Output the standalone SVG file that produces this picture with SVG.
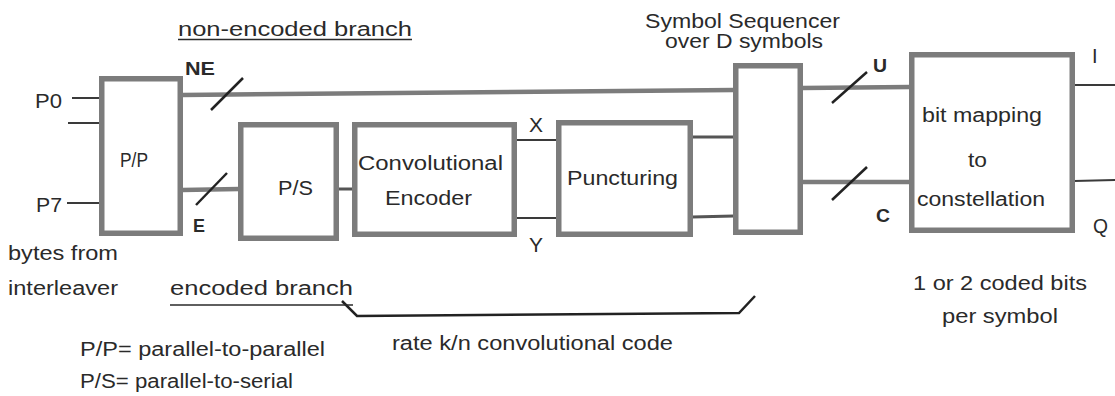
<svg xmlns="http://www.w3.org/2000/svg" width="1115" height="396" viewBox="0 0 1115 396">
<style>
  .box { fill: #ffffff; stroke: #7c7c7c; stroke-width: 5.5; }
  .bus { stroke: #7c7c7c; stroke-width: 4.5; fill: none; }
  .thin { stroke: #3a3a3a; stroke-width: 2; fill: none; }
  .med { stroke: #555555; stroke-width: 3; fill: none; }
  .slash { stroke: #222222; stroke-width: 2.5; fill: none; }
  .t { font-family: "Liberation Sans", Arial, sans-serif; font-size: 20px; fill: #2a2a2a; }
  .b { font-weight: bold; font-size: 18px; }
</style>
<rect width="1115" height="396" fill="#ffffff"/>

<g id="connectors">
  <line class="thin" x1="72" y1="98" x2="100" y2="98"/>
  <line class="thin" x1="68" y1="123" x2="100" y2="123"/>
  <line class="thin" x1="67" y1="203" x2="100" y2="203"/>
  <line class="bus" x1="182" y1="95" x2="734" y2="90"/>
  <line class="slash" x1="211" y1="110" x2="243" y2="78"/>
  <line class="bus" x1="182" y1="190" x2="239" y2="189"/>
  <line class="slash" x1="196" y1="205" x2="227" y2="173"/>
  <line class="med" x1="338" y1="189" x2="353" y2="189"/>
  <line class="thin" x1="516" y1="140" x2="557" y2="140"/>
  <line class="thin" x1="516" y1="218" x2="557" y2="218"/>
  <line class="med" x1="692" y1="137" x2="734" y2="137"/>
  <line class="med" x1="692" y1="217" x2="734" y2="216"/>
  <line class="bus" x1="802" y1="88" x2="910" y2="87"/>
  <line class="slash" x1="832" y1="103" x2="867" y2="72"/>
  <line class="bus" x1="802" y1="182" x2="910" y2="182"/>
  <line class="slash" x1="832" y1="200" x2="867" y2="167"/>
  <line class="thin" x1="1074" y1="85" x2="1115" y2="85"/>
  <line class="thin" x1="1074" y1="181" x2="1115" y2="180"/>
  <polyline class="slash" points="342,301 357,316 739,313 755,296"/>
</g>

<g id="pp">
  <rect class="box" x="101.75" y="78.75" width="78.5" height="154.5"/>
  <text class="t" x="120" y="167" textLength="28" lengthAdjust="spacingAndGlyphs">P/P</text>
</g>
<g id="ps">
  <rect class="box" x="240.75" y="124.75" width="95.5" height="113.5"/>
  <text class="t" x="278" y="195" textLength="35" lengthAdjust="spacingAndGlyphs">P/S</text>
</g>
<g id="encoder">
  <rect class="box" x="354.75" y="124.75" width="159.5" height="109.5"/>
  <text class="t" x="358" y="170" textLength="145" lengthAdjust="spacingAndGlyphs">Convolutional</text>
  <text class="t" x="385" y="205" textLength="87" lengthAdjust="spacingAndGlyphs">Encoder</text>
</g>
<g id="puncturing">
  <rect class="box" x="558.75" y="122.75" width="131.5" height="111.5"/>
  <text class="t" x="567" y="185" textLength="111" lengthAdjust="spacingAndGlyphs">Puncturing</text>
</g>
<g id="sequencer">
  <rect class="box" x="735.75" y="65.75" width="64.5" height="166.5"/>
  <text class="t" x="645" y="28" textLength="195" lengthAdjust="spacingAndGlyphs">Symbol Sequencer</text>
  <text class="t" x="665" y="48" textLength="158" lengthAdjust="spacingAndGlyphs">over D symbols</text>
</g>
<g id="mapping">
  <rect class="box" x="911.75" y="54.75" width="160.5" height="175.5"/>
  <text class="t" x="922" y="122" textLength="120" lengthAdjust="spacingAndGlyphs">bit mapping</text>
  <text class="t" x="968" y="167" textLength="19" lengthAdjust="spacingAndGlyphs">to</text>
  <text class="t" x="917" y="206" textLength="128" lengthAdjust="spacingAndGlyphs">constellation</text>
</g>

<g id="labels">
  <text class="t" x="178" y="36" textLength="234" lengthAdjust="spacingAndGlyphs">non-encoded branch</text>
  <line x1="178" y1="39.5" x2="412" y2="39.5" stroke="#2a2a2a" stroke-width="1.5"/>
  <text class="t b" x="185" y="75" textLength="30" lengthAdjust="spacingAndGlyphs">NE</text>
  <text class="t" x="35" y="108" textLength="27" lengthAdjust="spacingAndGlyphs">P0</text>
  <text class="t" x="36" y="212" textLength="26" lengthAdjust="spacingAndGlyphs">P7</text>
  <text class="t b" x="193" y="232" textLength="12" lengthAdjust="spacingAndGlyphs">E</text>
  <text class="t" x="529" y="132" textLength="14" lengthAdjust="spacingAndGlyphs">X</text>
  <text class="t" x="529" y="252" textLength="14" lengthAdjust="spacingAndGlyphs">Y</text>
  <text class="t b" x="873" y="72" textLength="14" lengthAdjust="spacingAndGlyphs">U</text>
  <text class="t b" x="876" y="222" textLength="14" lengthAdjust="spacingAndGlyphs">C</text>
  <text class="t" x="1092" y="63">I</text>
  <text class="t" x="1093" y="233" textLength="15" lengthAdjust="spacingAndGlyphs">Q</text>
  <text class="t" x="913" y="290" textLength="174" lengthAdjust="spacingAndGlyphs">1 or 2 coded bits</text>
  <text class="t" x="942" y="323" textLength="116" lengthAdjust="spacingAndGlyphs">per symbol</text>
  <text class="t" x="8" y="260" textLength="110" lengthAdjust="spacingAndGlyphs">bytes from</text>
  <text class="t" x="8" y="295" textLength="110" lengthAdjust="spacingAndGlyphs">interleaver</text>
  <text class="t" x="170" y="295" textLength="183" lengthAdjust="spacingAndGlyphs">encoded branch</text>
  <line x1="170" y1="305" x2="353" y2="305" stroke="#2a2a2a" stroke-width="1.5"/>
  <text class="t" x="392" y="350" textLength="281" lengthAdjust="spacingAndGlyphs">rate k/n convolutional code</text>
  <text class="t" x="80" y="356" textLength="245" lengthAdjust="spacingAndGlyphs">P/P= parallel-to-parallel</text>
  <text class="t" x="80" y="388" textLength="213" lengthAdjust="spacingAndGlyphs">P/S= parallel-to-serial</text>
</g>
</svg>
